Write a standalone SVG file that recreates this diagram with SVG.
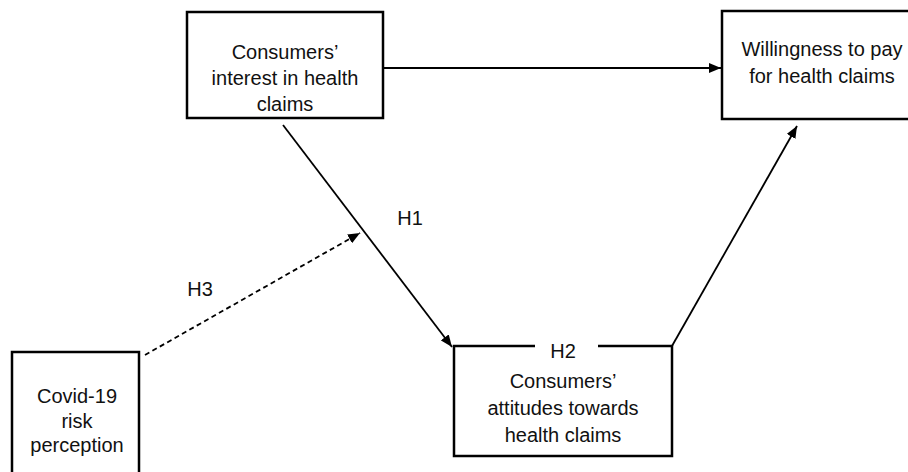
<svg xmlns="http://www.w3.org/2000/svg" width="908" height="472" viewBox="0 0 908 472">
<style>
.box{fill:#fff;stroke:#000;stroke-width:2.5}
.t{font-family:"Liberation Sans",Arial,sans-serif;font-size:20px;fill:#111;text-anchor:middle}
.c{stroke:#000;stroke-width:1.8;fill:none}
.d{stroke-dasharray:5 3.5}
</style>
<defs>
<marker id="ah" viewBox="0 0 12 10" refX="12" refY="5" markerWidth="12" markerHeight="10" markerUnits="userSpaceOnUse" orient="auto">
<path d="M0,0 L12,5 L0,10 Z" fill="#000"/>
</marker>
</defs>
<rect width="908" height="472" fill="#fff"/>
<g id="connectors">
<line class="c" x1="383" y1="68" x2="721" y2="68" marker-end="url(#ah)"/>
<line class="c" x1="283" y1="125" x2="452" y2="347" marker-end="url(#ah)"/>
<line class="c" x1="672" y1="346" x2="797" y2="126" marker-end="url(#ah)"/>
<line class="c d" x1="145" y1="355" x2="360" y2="233" marker-end="url(#ah)"/>
<text class="t" x="410" y="225">H1</text>
<text class="t" x="200" y="296">H3</text>
</g>
<g id="interest">
<rect class="box" x="187" y="12" width="196" height="106"/>
<text class="t" x="285" y="59">Consumers’</text>
<text class="t" x="285" y="85">interest in health</text>
<text class="t" x="285" y="111">claims</text>
</g>
<g id="willingness">
<rect class="box" x="722" y="11" width="210" height="108"/>
<text class="t" x="822" y="56">Willingness to pay</text>
<text class="t" x="822" y="83">for health claims</text>
</g>
<g id="covid">
<rect class="box" x="12" y="352" width="127" height="140"/>
<text class="t" x="77" y="403">Covid-19</text>
<text class="t" x="77" y="428">risk</text>
<text class="t" x="77" y="452">perception</text>
</g>
<g id="attitudes">
<rect class="box" x="454" y="346" width="218" height="110"/>
<rect x="535" y="340" width="63" height="10" fill="#fff"/>
<text class="t" x="563" y="358">H2</text>
<text class="t" x="563" y="388">Consumers’</text>
<text class="t" x="563" y="415">attitudes towards</text>
<text class="t" x="563" y="442">health claims</text>
</g>
</svg>
